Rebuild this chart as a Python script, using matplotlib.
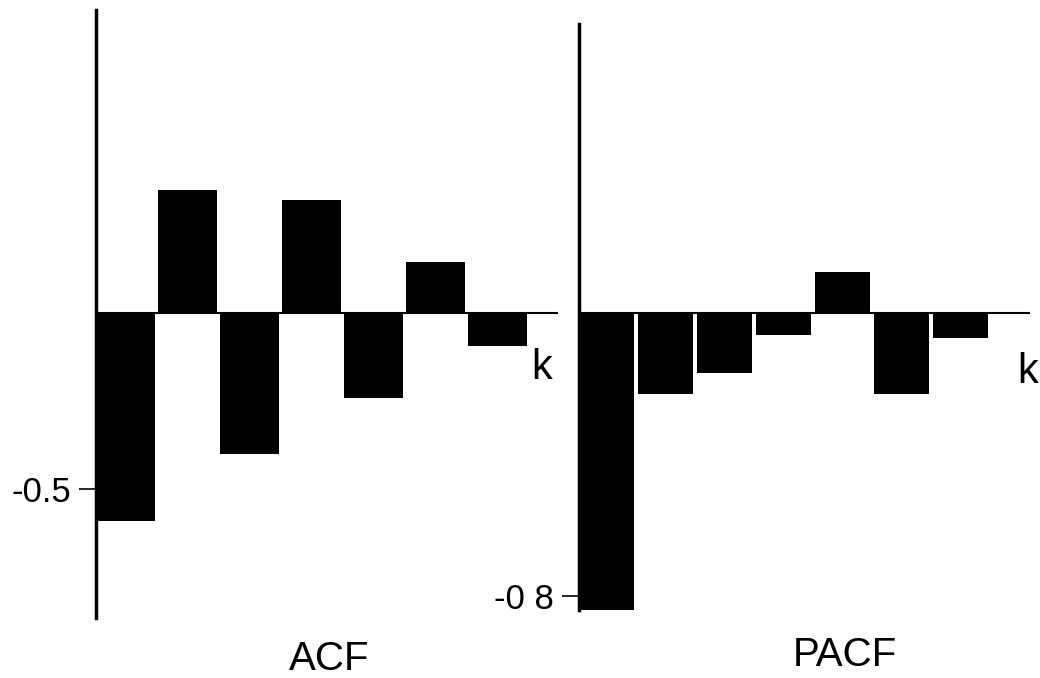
import matplotlib.pyplot as plt
import numpy as np

plt.rcParams['font.family'] = ['Liberation Sans', 'DejaVu Sans']

lags = np.arange(1, 8)
acf = [-0.59, 0.35, -0.40, 0.32, -0.24, 0.145, -0.094]
pacf = [-0.84, -0.23, -0.17, -0.062, 0.116, -0.23, -0.071]
acf_ticks = [-0.5]
acf_ticklabels = ["-0.5"]
pacf_ticks = [-0.8]
pacf_ticklabels = ["-0 8"]

W, H = 1040, 678
fig = plt.figure(figsize=(W / 100, H / 100), dpi=100)


def px_axes(x0, x1, y0, y1):
    # pixel box (top-left origin) -> figure fraction
    return fig.add_axes([x0 / W, 1 - y1 / H, (x1 - x0) / W, (y1 - y0) / H])


def panel(ax, vals, width, xlim, ylim, ticks, ticklabels):
    ax.bar(lags, vals, width=width, color='black', edgecolor='black', linewidth=0)
    ax.axhline(0, color='black', linewidth=1.5)
    ax.set_xlim(*xlim)
    ax.set_ylim(*ylim)
    for s in ['top', 'right', 'bottom']:
        ax.spines[s].set_visible(False)
    ax.spines['left'].set_linewidth(2.5)
    ax.set_xticks([])
    ax.set_yticks(ticks)
    ax.set_yticklabels(ticklabels, fontsize=25)
    ax.tick_params(axis='y', length=12, width=1.2, pad=6)
    ax.patch.set_alpha(0)


ax1 = px_axes(96, 558, 10, 618)
panel(ax1, acf, 0.95, (0.524, 7.976), (-0.866, 0.861), acf_ticks, acf_ticklabels)

ax2 = px_axes(579, 1030, 24, 610)
panel(ax2, pacf, 0.93, (0.534, 8.18), (-0.84, 0.817), pacf_ticks, pacf_ticklabels)

fig.text(542 / W, 1 - 368 / H, "k", fontsize=30, ha='center', va='center')
fig.text(1028 / W, 1 - 372 / H, "k", fontsize=30, ha='center', va='center')
fig.text(329 / W, 1 - 670 / H, "ACF", fontsize=29, ha='center', va='baseline')
fig.text(845 / W, 1 - 666 / H, "PACF", fontsize=29, ha='center', va='baseline')

fig.savefig("out.png", dpi=100, facecolor='white')
